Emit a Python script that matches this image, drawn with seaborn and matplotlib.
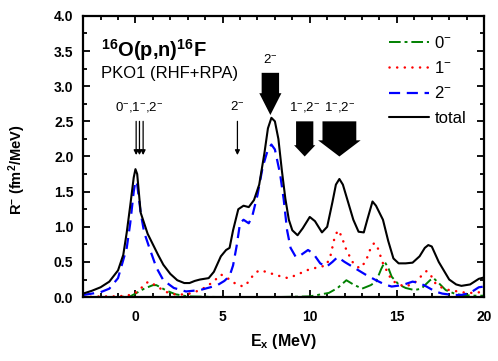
"""Charge-exchange response of 16O(p,n)16F, redrawn with seaborn."""

import matplotlib
matplotlib.use("Agg")
import matplotlib.pyplot as plt
from matplotlib.ticker import MultipleLocator
import seaborn as sns

# total response
total_x = [-3, -2.5, -2, -1.5, -1, -0.7, -0.5, -0.3, -0.1, 0, 0.1, 0.3, 0.5, 0.7,
           1.0, 1.3, 1.6, 2.0, 2.4, 2.8, 3.1, 3.4, 3.7, 4.2, 4.5, 4.9, 5.2, 5.4,
           5.6, 5.9, 6.2, 6.5, 6.8, 7.1, 7.4, 7.6, 7.8, 8.0, 8.2, 8.4, 8.6, 8.8,
           9.0, 9.3, 9.6, 10.0, 10.3, 10.7, 11.0, 11.3, 11.5, 11.7, 11.9, 12.2,
           12.5, 12.8, 13.1, 13.3, 13.6, 13.8, 14.2, 14.5, 14.8, 15.1, 15.5,
           15.9, 16.3, 16.6, 16.8, 17.0, 17.4, 18.0, 18.4, 18.7, 19.2, 19.7, 20.0]
total_y = [0.05, 0.09, 0.14, 0.22, 0.38, 0.6, 0.92, 1.3, 1.7, 1.82, 1.75, 1.2, 1.05,
           0.9, 0.75, 0.6, 0.46, 0.33, 0.24, 0.2, 0.2, 0.23, 0.25, 0.27, 0.36, 0.58,
           0.67, 0.7, 0.95, 1.25, 1.3, 1.28, 1.38, 1.6, 2.05, 2.4, 2.55, 2.5, 2.25,
           1.8, 1.4, 1.1, 0.95, 0.88, 0.98, 1.14, 1.08, 0.92, 1.0, 1.35, 1.6, 1.68,
           1.6, 1.35, 1.1, 0.93, 0.92, 1.1, 1.36, 1.3, 1.1, 0.8, 0.55, 0.48, 0.48,
           0.49, 0.58, 0.7, 0.74, 0.72, 0.5, 0.25, 0.18, 0.16, 0.18, 0.26, 0.28]

# 2- component
j2_x = [-3, -2, -1.5, -1, -0.5, -0.3, -0.1, 0, 0.1, 0.3, 0.5, 0.8, 1.2, 1.6, 2.2,
        2.9, 3.7, 4.3, 4.7, 5.1, 5.4, 5.6, 5.8, 6.0, 6.2, 6.5, 6.7, 7.0, 7.3, 7.6,
        7.8, 8.0, 8.3, 8.5, 8.7, 8.9, 9.2, 9.5, 9.9, 10.2, 10.6, 10.95, 11.3, 11.6,
        12.0, 12.6, 13.2, 13.8, 14.3, 14.7, 15.3, 15.9, 16.3, 16.7, 17.2, 17.6,
        18.2, 18.7, 19.2, 19.7, 20.0]
j2_y = [0.03, 0.07, 0.12, 0.27, 0.7, 1.05, 1.5, 1.65, 1.6, 1.2, 0.92, 0.7, 0.42,
        0.24, 0.13, 0.08, 0.1, 0.14, 0.17, 0.23, 0.3, 0.45, 0.72, 1.05, 1.1, 1.05,
        1.15, 1.45, 1.85, 2.1, 2.17, 2.1, 1.75, 1.4, 0.95, 0.7, 0.57, 0.6, 0.67,
        0.62, 0.48, 0.43, 0.5, 0.57, 0.5, 0.41, 0.32, 0.24, 0.18, 0.15, 0.17, 0.22,
        0.2, 0.15, 0.08, 0.05, 0.03, 0.03, 0.06, 0.14, 0.15]

# 1- component
j1_x = [-3, -2, -1, -0.3, 0, 0.3, 0.6, 0.8, 1.0, 1.3, 1.8, 2.4, 3.1, 3.6, 4.1, 4.6,
        4.9, 5.1, 5.4, 5.8, 6.2, 6.5, 6.8, 7.1, 7.5, 8.1, 8.75, 9.3, 9.8, 10.4,
        10.95, 11.2, 11.4, 11.6, 11.8, 12.1, 12.5, 12.86, 13.2, 13.5, 13.7, 13.9,
        14.2, 14.7, 15.1, 15.5, 16.0, 16.4, 16.7, 16.9, 17.2, 17.6, 18.0, 18.5,
        19.0, 19.5, 20.0]
j1_y = [0.0, 0.01, 0.01, 0.03, 0.06, 0.12, 0.2, 0.22, 0.19, 0.14, 0.07, 0.03, 0.05,
        0.09, 0.15, 0.25, 0.32, 0.3, 0.25, 0.18, 0.15, 0.22, 0.33, 0.38, 0.36, 0.31,
        0.27, 0.32, 0.38, 0.42, 0.45, 0.6, 0.82, 0.95, 0.88, 0.67, 0.48, 0.41, 0.5,
        0.7, 0.77, 0.7, 0.48, 0.24, 0.18, 0.15, 0.2, 0.3, 0.37, 0.33, 0.2, 0.13,
        0.1, 0.08, 0.06, 0.06, 0.08]

# 0- component
j0_x = [-3, -1, -0.3, 0, 0.5, 1.0, 1.2, 1.5, 1.8, 2.3, 3, 5, 8, 10, 11.1, 11.6,
        12.1, 12.5, 13.0, 13.5, 13.8, 14.1, 14.3, 14.5, 14.7, 15.1, 15.5, 16.0,
        16.4, 16.9, 17.1, 17.4, 17.8, 18.3, 18.7, 19.5, 20.0]
j0_y = [0.0, 0.0, 0.01, 0.05, 0.12, 0.17, 0.17, 0.13, 0.09, 0.04, 0.01, 0.0, 0.0,
        0.01, 0.06, 0.13, 0.24, 0.18, 0.12, 0.17, 0.22, 0.4, 0.5, 0.42, 0.29, 0.18,
        0.13, 0.1, 0.12, 0.24, 0.27, 0.2, 0.1, 0.05, 0.03, 0.02, 0.02]

# state markers: thin arrows (x positions) and block arrows (x, shaft width, head width)
thin_arrow_x = [0.04, 0.23, 0.44, 5.85]
block_arrow_x = [7.74, 9.71, 11.7]
block_arrow_top = [3.19, 2.5, 2.5]
block_arrow_tip = [2.59, 2.0, 2.0]
block_arrow_shaft = [1.0, 0.99, 1.94]
block_arrow_head = [1.27, 1.22, 2.44]
block_arrow_head_len = [0.31, 0.16, 0.23]

sns.set_style("ticks")
plt.rcParams["font.family"] = ["Liberation Sans", "DejaVu Sans"]
plt.rcParams["mathtext.fontset"] = "custom"
plt.rcParams["mathtext.rm"] = "Liberation Sans"
plt.rcParams["mathtext.bf"] = "Liberation Sans:bold"
plt.rcParams["mathtext.it"] = "Liberation Sans:italic"
for key in ["text.color", "axes.labelcolor", "axes.edgecolor",
            "xtick.color", "ytick.color"]:
    plt.rcParams[key] = "black"

fig = plt.figure(figsize=(4.98, 3.61), dpi=100)
ax = fig.add_axes([0.167, 0.177, 0.805, 0.779])

sns.lineplot(x=j0_x, y=j0_y, ax=ax, color="#008000", lw=1.4,
             linestyle=(0, (6, 2, 1.5, 2)), label="0$^{-}$")
sns.lineplot(x=j1_x, y=j1_y, ax=ax, color="#ff0000", lw=1.8,
             linestyle=(0, (0.05, 3.0)), dash_capstyle="round", label="1$^{-}$")
sns.lineplot(x=j2_x, y=j2_y, ax=ax, color="#0000ff", lw=1.6,
             linestyle=(0, (5, 3)), label="2$^{-}$")
sns.lineplot(x=total_x, y=total_y, ax=ax, color="black", lw=1.5, label="total")

for xa in thin_arrow_x:
    ax.annotate("", xy=(xa, 2.02), xytext=(xa, 2.5),
                arrowprops=dict(arrowstyle="-|>", color="black", lw=0.9,
                                mutation_scale=7, shrinkA=0, shrinkB=0))

for xa, top, tip, sw, hw, hl in zip(block_arrow_x, block_arrow_top, block_arrow_tip,
                                    block_arrow_shaft, block_arrow_head,
                                    block_arrow_head_len):
    ax.arrow(xa, top, 0, tip - top, width=sw, head_width=hw, head_length=hl,
             length_includes_head=True, color="black", lw=0)

ax.text(0.2, 2.66, "0$^{-}$,1$^{-}$,2$^{-}$", ha="center", fontsize=9.5)
ax.text(5.85, 2.66, "2$^{-}$", ha="center", fontsize=9.5)
ax.text(7.74, 3.33, "2$^{-}$", ha="center", fontsize=9.5)
ax.text(9.71, 2.66, "1$^{-}$,2$^{-}$", ha="center", fontsize=9.5)
ax.text(11.7, 2.66, "1$^{-}$,2$^{-}$", ha="center", fontsize=9.5)

ax.text(-2.0, 3.42, r"$\mathbf{^{16}}$O(p,n)$\mathbf{^{16}}$F", fontsize=14.5,
        fontweight="bold")
ax.text(-2.0, 3.12, "PKO1 (RHF+RPA)", fontsize=12)

ax.set_xlim(-3, 20)
ax.set_ylim(0, 4.0)
ax.xaxis.set_major_locator(MultipleLocator(5))
ax.xaxis.set_minor_locator(MultipleLocator(1))
ax.yaxis.set_major_locator(MultipleLocator(0.5))
ax.yaxis.set_minor_locator(MultipleLocator(0.25))
ax.tick_params(which="both", direction="in", top=True, right=True, width=1.3)
ax.tick_params(which="major", length=5, labelsize=10)
ax.tick_params(which="minor", length=3)
ax.tick_params(axis="x", which="major", pad=9)
ax.tick_params(axis="y", which="major", pad=7)
for lab in ax.get_xticklabels() + ax.get_yticklabels():
    lab.set_fontweight("bold")
for side in ["left", "right", "top", "bottom"]:
    ax.spines[side].set_linewidth(1.6)

ax.set_xlabel(r"E$\mathbf{_x}$ (MeV)", fontsize=11.5, fontweight="bold", labelpad=6)
ax.set_ylabel(r"R$\mathbf{^{-}}$ (fm$\mathbf{^2}$/MeV)", fontsize=10.5,
              fontweight="bold")
ax.yaxis.set_label_coords(-0.137, 0.452)

ax.legend(loc="upper right", bbox_to_anchor=(0.955, 0.933), frameon=False,
          fontsize=12, handlelength=2.4, labelspacing=0.56, borderaxespad=0,
          borderpad=0, handletextpad=0.3)

fig.savefig("out.png", dpi=100)
